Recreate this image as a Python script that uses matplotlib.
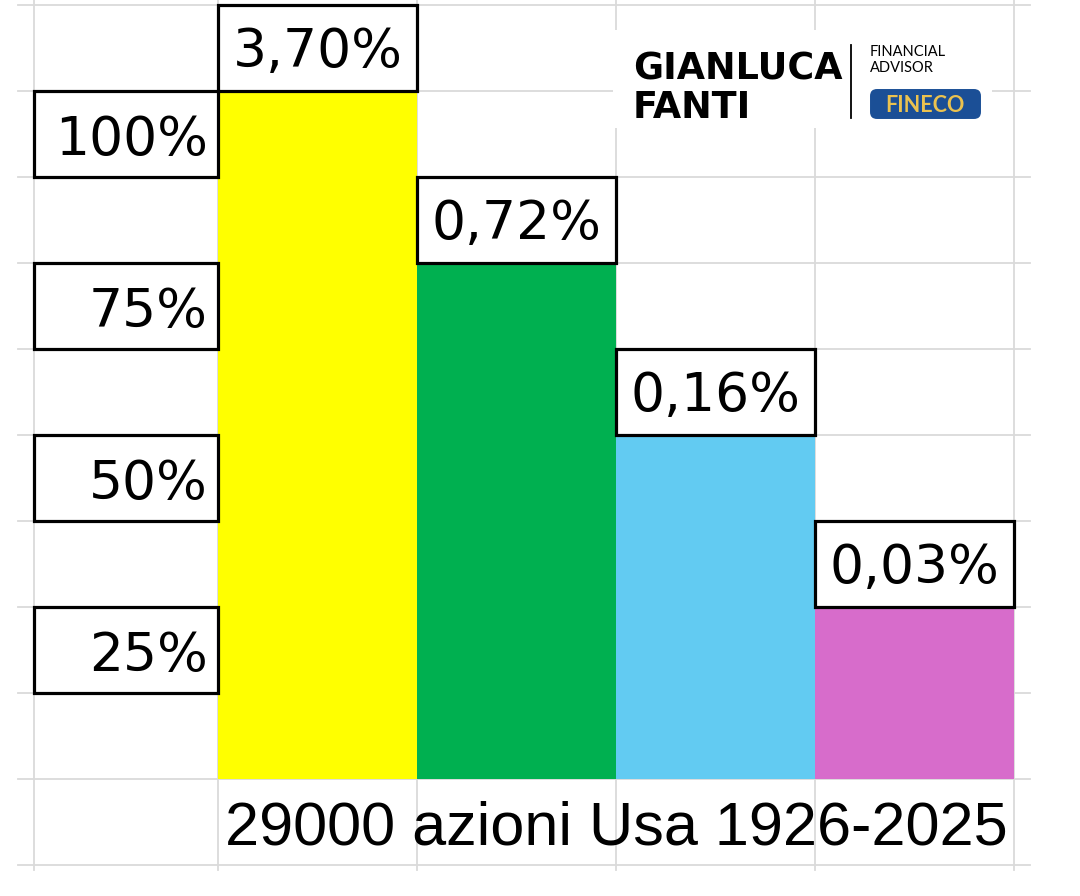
import matplotlib.pyplot as plt
from matplotlib.patches import Rectangle, FancyBboxPatch

# data
heights = [100, 75, 50, 25]
bar_labels = ["3,70%", "0,72%", "0,16%", "0,03%"]
bar_colors = ["#FFFF00", "#00B050", "#62CBF2", "#D76CCB"]
tick_values = [100, 75, 50, 25]
tick_labels = ["100%", "75%", "50%", "25%"]
caption = "29000 azioni Usa 1926-2025"

row = 12.5          # one spreadsheet row, in percent
W, H = 1080, 896
x0_px, col_px = 218, 199
y0_px, pct_px = 779, 6.88

fig = plt.figure(figsize=(W / 100, H / 100), dpi=100)
ax = fig.add_axes([0, 0, 1, 1])
ax.set_xlim(-x0_px / col_px, (W - x0_px) / col_px)
ax.set_ylim(-(H - y0_px) / pct_px, y0_px / pct_px)
ax.axis("off")

def px_x(p):
    return (p - x0_px) / col_px

def px_y(p):
    return (y0_px - p) / pct_px

# spreadsheet grid
grid_c = "#DADADA"
for k in range(11):
    v = -row + k * row
    ax.plot([px_x(18), px_x(1030)], [v, v], color=grid_c, lw=1.3, zorder=0)
for xv in [px_x(34), 0, 1, 2, 3, 4]:
    ax.plot([xv, xv], [px_y(870), px_y(0)], color=grid_c, lw=1.3, zorder=0)

# bars
xs = range(len(heights))
ax.bar(xs, heights, width=1, align="edge", color=bar_colors, zorder=2)

lab_font = "DejaVu Sans"
for i, (h, lab) in enumerate(zip(heights, bar_labels)):
    ax.add_patch(Rectangle((i, h), 1, row, facecolor="white", edgecolor="black",
                           lw=2.3, zorder=3))
    ax.text(i + 0.5, h + row / 2 + 0.2, lab, ha="center", va="center_baseline",
            fontsize=38.5, family=lab_font, zorder=4)

# y labels in boxes below each tick line
box_left = px_x(34)
for v, lab in zip(tick_values, tick_labels):
    ax.add_patch(Rectangle((box_left, v - row), -box_left, row, facecolor="white",
                           edgecolor="black", lw=2.3, zorder=3))
    ax.text(px_x(208), v - row / 2, lab, ha="right", va="center_baseline",
            fontsize=38.5, family=lab_font, zorder=4)

ax.text(2, -row / 2, caption, ha="center", va="center_baseline",
        fontsize=44, family="Liberation Sans", zorder=4)

# logo block
ax.add_patch(Rectangle((px_x(613), px_y(128)), (992 - 613) / col_px, 98 / pct_px,
                       facecolor="white", edgecolor="none", zorder=5))
ax.text(px_x(633), px_y(65), "GIANLUCA", ha="left", va="center_baseline",
        fontsize=26.3, fontweight="bold", family="DejaVu Sans", zorder=6)
ax.text(px_x(633), px_y(104), "FANTI", ha="left", va="center_baseline",
        fontsize=26.3, fontweight="bold", family="DejaVu Sans", zorder=6)
ax.plot([px_x(851), px_x(851)], [px_y(45), px_y(118)], color="black", lw=1.3, zorder=6)
ax.text(px_x(870), px_y(50), "FINANCIAL", ha="left", va="center_baseline",
        fontsize=10.5, family="Lato", zorder=6)
ax.text(px_x(870), px_y(67), "ADVISOR", ha="left", va="center_baseline",
        fontsize=10.5, family="Lato", zorder=6)
ax.add_patch(FancyBboxPatch((px_x(875), px_y(114)), (976 - 875) / col_px, 20 / pct_px,
                            boxstyle="round,pad=0.025,rounding_size=0.035",
                            mutation_aspect=col_px / pct_px,
                            facecolor="#1B4F96", edgecolor="none", zorder=6))
ax.text(px_x(925), px_y(104), "FINECO", ha="center", va="center_baseline",
        fontsize=15.5, fontweight="bold", family="Lato", color="#EBC24F", zorder=7)

fig.savefig("out.png", dpi=100)
